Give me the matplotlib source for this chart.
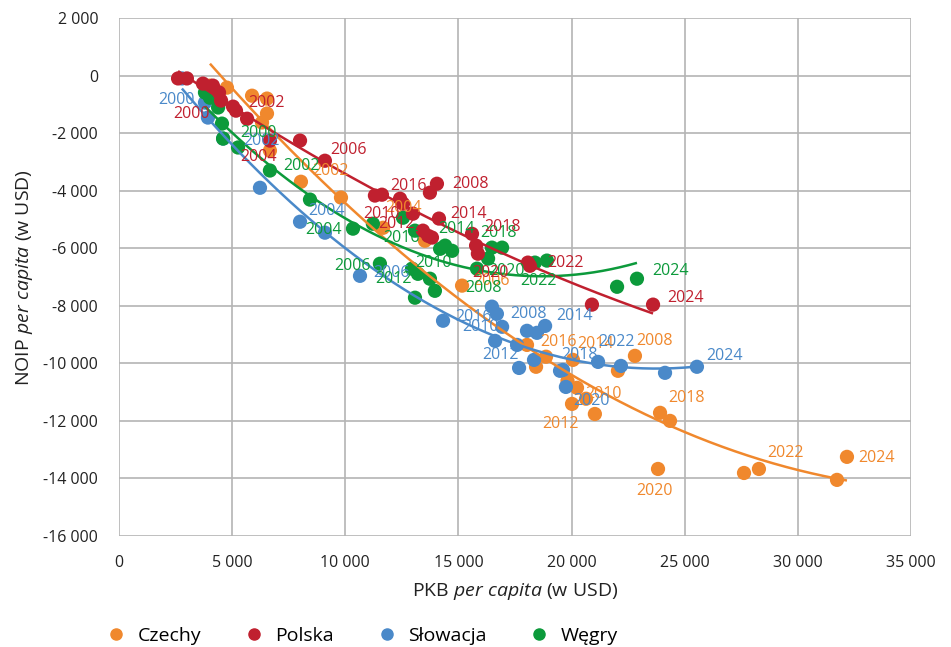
import numpy as np
import matplotlib
matplotlib.use("Agg")
import matplotlib.pyplot as plt
from matplotlib.ticker import FuncFormatter, MultipleLocator
from matplotlib.lines import Line2D

plt.rcParams['font.family'] = ['Open Sans', 'DejaVu Sans']
plt.rcParams['mathtext.fontset'] = 'custom'
plt.rcParams['mathtext.rm'] = 'Open Sans'
plt.rcParams['mathtext.it'] = 'Open Sans:italic'

# ---------------- data ----------------
cz_years = list(range(1995, 2025))
cz_gdp = [4020, 4770, 5880, 6540, 6540, 6320, 6670, 8040, 9810, 11670, 13520, 15160,
          18870, 22800, 18430, 20240, 21030, 20020, 22050, 20060, 19820, 18030, 20640,
          23910, 24350, 23820, 27620, 28280, 31730, 32170]
cz_noip = [-350, -420, -700, -800, -1320, -1630, -2610, -3690, -4240, -5290, -5740, -7300,
           -9770, -9740, -10120, -10850, -11760, -11410, -10260, -9880, -10610, -9360, -11230,
           -11720, -12000, -13670, -13810, -13670, -14050, -13250]

pl_years = list(range(1995, 2025))
pl_gdp = [2610, 3000, 3710, 4150, 4420, 4510, 5040, 5170, 5660, 6670, 8000, 9100,
          11310, 14050, 11620, 12550, 13740, 12990, 13660, 14140, 13430, 12420, 13830,
          15600, 15780, 15860, 18070, 18160, 20900, 23600]
pl_noip = [-100, -100, -280, -350, -590, -870, -1080, -1220, -1500, -2260, -2260, -2960,
           -4170, -3760, -4140, -4450, -4070, -4800, -5570, -4970, -5390, -4280, -5630,
           -5500, -5910, -6190, -6500, -6610, -7960, -7960]

sk_years = list(range(1999, 2025))
sk_gdp = [2780, 3800, 3930, 4600, 6230, 8000, 9100, 10650, 14320, 18030, 16620, 16700,
          18470, 17590, 18340, 18830, 16930, 16480, 17680, 19620, 19490, 19750, 22180,
          21170, 24130, 25540]
sk_noip = [-100, -940, -1460, -2190, -3900, -5080, -5460, -6960, -8520, -8870, -9220, -8280,
           -8940, -9360, -9880, -8700, -8730, -8030, -10160, -10230, -10260, -10820, -10090,
           -9950, -10330, -10120]

hu_years = list(range(1996, 2025))
hu_gdp = [3800, 4020, 4380, 4550, 4600, 5260, 6670, 8440, 10340, 11220, 11530, 13740,
          13960, 13210, 12950, 14410, 13080, 14720, 14190, 12550, 13080, 16310, 16480,
          16930, 15820, 18380, 18910, 22010, 22890]
hu_noip = [-590, -770, -1110, -1670, -2190, -2500, -3300, -4310, -5320, -5150, -6540, -7060,
           -7480, -6890, -6710, -5910, -7720, -6090, -6020, -4940, -5390, -6360, -5980,
           -5980, -6710, -6500, -6430, -7340, -7060]

country_names = ['Czechy', 'Polska', 'Słowacja', 'Węgry']
label_years = [2000, 2002, 2004, 2006, 2008, 2010, 2012, 2014, 2016, 2018, 2020, 2022, 2024]

# ---------------- styles / layout ----------------
colors = {'Czechy': '#f0882d', 'Polska': '#c0202f', 'Słowacja': '#4a89c9', 'Węgry': '#0c9a3b'}
# label offsets (pixels, right/down) from each point
label_offsets = {
    'Czechy': {2002: (11, -11), 2004: (2, -20), 2006: (11, -5), 2008: (1, -15), 2010: (8, 6),
               2012: (-30, 20), 2014: (4, -16), 2016: (13, -3), 2018: (8, -15),
               2020: (-22, 22), 2022: (8, -16), 2024: (11, 1)},
    'Polska': {2000: (-48, 13), 2002: (12, -8), 2004: (-30, 16), 2006: (5, -11), 2008: (15, 0),
               2010: (-40, 10), 2012: (-35, 10), 2014: (11, -5), 2016: (-10, -13),
               2018: (12, -7), 2020: (-6, 19), 2022: (17, -3), 2024: (14, -7)},
    'Słowacja': {2000: (-47, -3), 2002: (20, 2), 2004: (8, -11), 2006: (13, -3), 2008: (-17, -17),
                 2010: (-35, 13), 2012: (-35, 10), 2014: (11, -10), 2016: (-37, 10),
                 2018: (-2, -15), 2020: (7, 14), 2022: (0, -20), 2024: (9, -11)},
    'Węgry': {2000: (17, -6), 2002: (13, -5), 2004: (-48, 1), 2006: (-46, 2), 2008: (30, -3),
              2010: (3, -6), 2012: (-40, -19), 2014: (-2, -20), 2016: (-32, 7),
              2018: (-12, -15), 2020: (11, 2), 2022: (-27, 20), 2024: (15, -8)},
}

series = {
    'Czechy': (cz_years, cz_gdp, cz_noip),
    'Polska': (pl_years, pl_gdp, pl_noip),
    'Słowacja': (sk_years, sk_gdp, sk_noip),
    'Węgry': (hu_years, hu_gdp, hu_noip),
}
draw_order = ['Czechy', 'Słowacja', 'Węgry', 'Polska']

W, H = 951, 647
fig = plt.figure(figsize=(W / 100, H / 100), dpi=100)
ax = fig.add_axes([119 / W, 1 - 536 / H, (911 - 119) / W, (536 - 18) / H])

PX = 0.72  # points per pixel
for zi, name in enumerate(draw_order):
    yrs, gx, gy = series[name]
    gx = np.array(gx, float)
    gy = np.array(gy, float)
    c = colors[name]
    ax.scatter(gx, gy, s=105, color=c, edgecolors='none', zorder=3 + zi * 0.1)
    coef = np.polyfit(gx, gy, 2)
    xs = np.linspace(gx.min(), gx.max(), 200)
    ax.plot(xs, np.polyval(coef, xs), color=c, lw=1.8, zorder=4, solid_capstyle='butt')
for name in draw_order:
    yrs, gx, gy = series[name]
    c = colors[name]
    for yr, xv, yv in zip(yrs, gx, gy):
        if yr in label_years and yr in label_offsets[name]:
            dx, dy = label_offsets[name][yr]
            ax.annotate(str(yr), (xv, yv), xytext=(dx * PX, -dy * PX), textcoords='offset points',
                        ha='left', va='center', fontsize=11.5, color=c, zorder=6)

ax.set_xlim(0, 35000)
ax.set_ylim(-16000, 2000)
ax.xaxis.set_major_locator(MultipleLocator(5000))
ax.yaxis.set_major_locator(MultipleLocator(2000))


def fmt(v, pos):
    v = int(round(v))
    s = f"{abs(v):,}".replace(",", " ")
    return ("-" if v < 0 else "") + s


ax.xaxis.set_major_formatter(FuncFormatter(fmt))
ax.yaxis.set_major_formatter(FuncFormatter(fmt))
ax.grid(True, color='#b4b4b4', lw=1.2, zorder=0)
ax.set_axisbelow(True)
for sp in ax.spines.values():
    sp.set_visible(False)
ax.tick_params(length=0, labelsize=11.5, colors='#222222')
ax.tick_params(axis='y', pad=15)
ax.tick_params(axis='x', pad=14)

ax.set_xlabel(r'PKB $\it{per\ capita}$ (w USD)', fontsize=14, color='#222222', labelpad=7)
ax.set_ylabel(r'NOIP $\it{per\ capita}$ (w USD)', fontsize=14, color='#222222', labelpad=6)

handles = [Line2D([], [], ls='none', marker='o', markersize=8, color=colors[n]) for n in country_names]
fig.legend(handles, country_names, loc='center left', bbox_to_anchor=(97 / W, 1 - 636 / H),
           ncol=4, frameon=False, fontsize=14, handlelength=1.0, handletextpad=0.58,
           columnspacing=2.23, borderpad=0, borderaxespad=0.5)

fig.savefig('out.png', dpi=100)
